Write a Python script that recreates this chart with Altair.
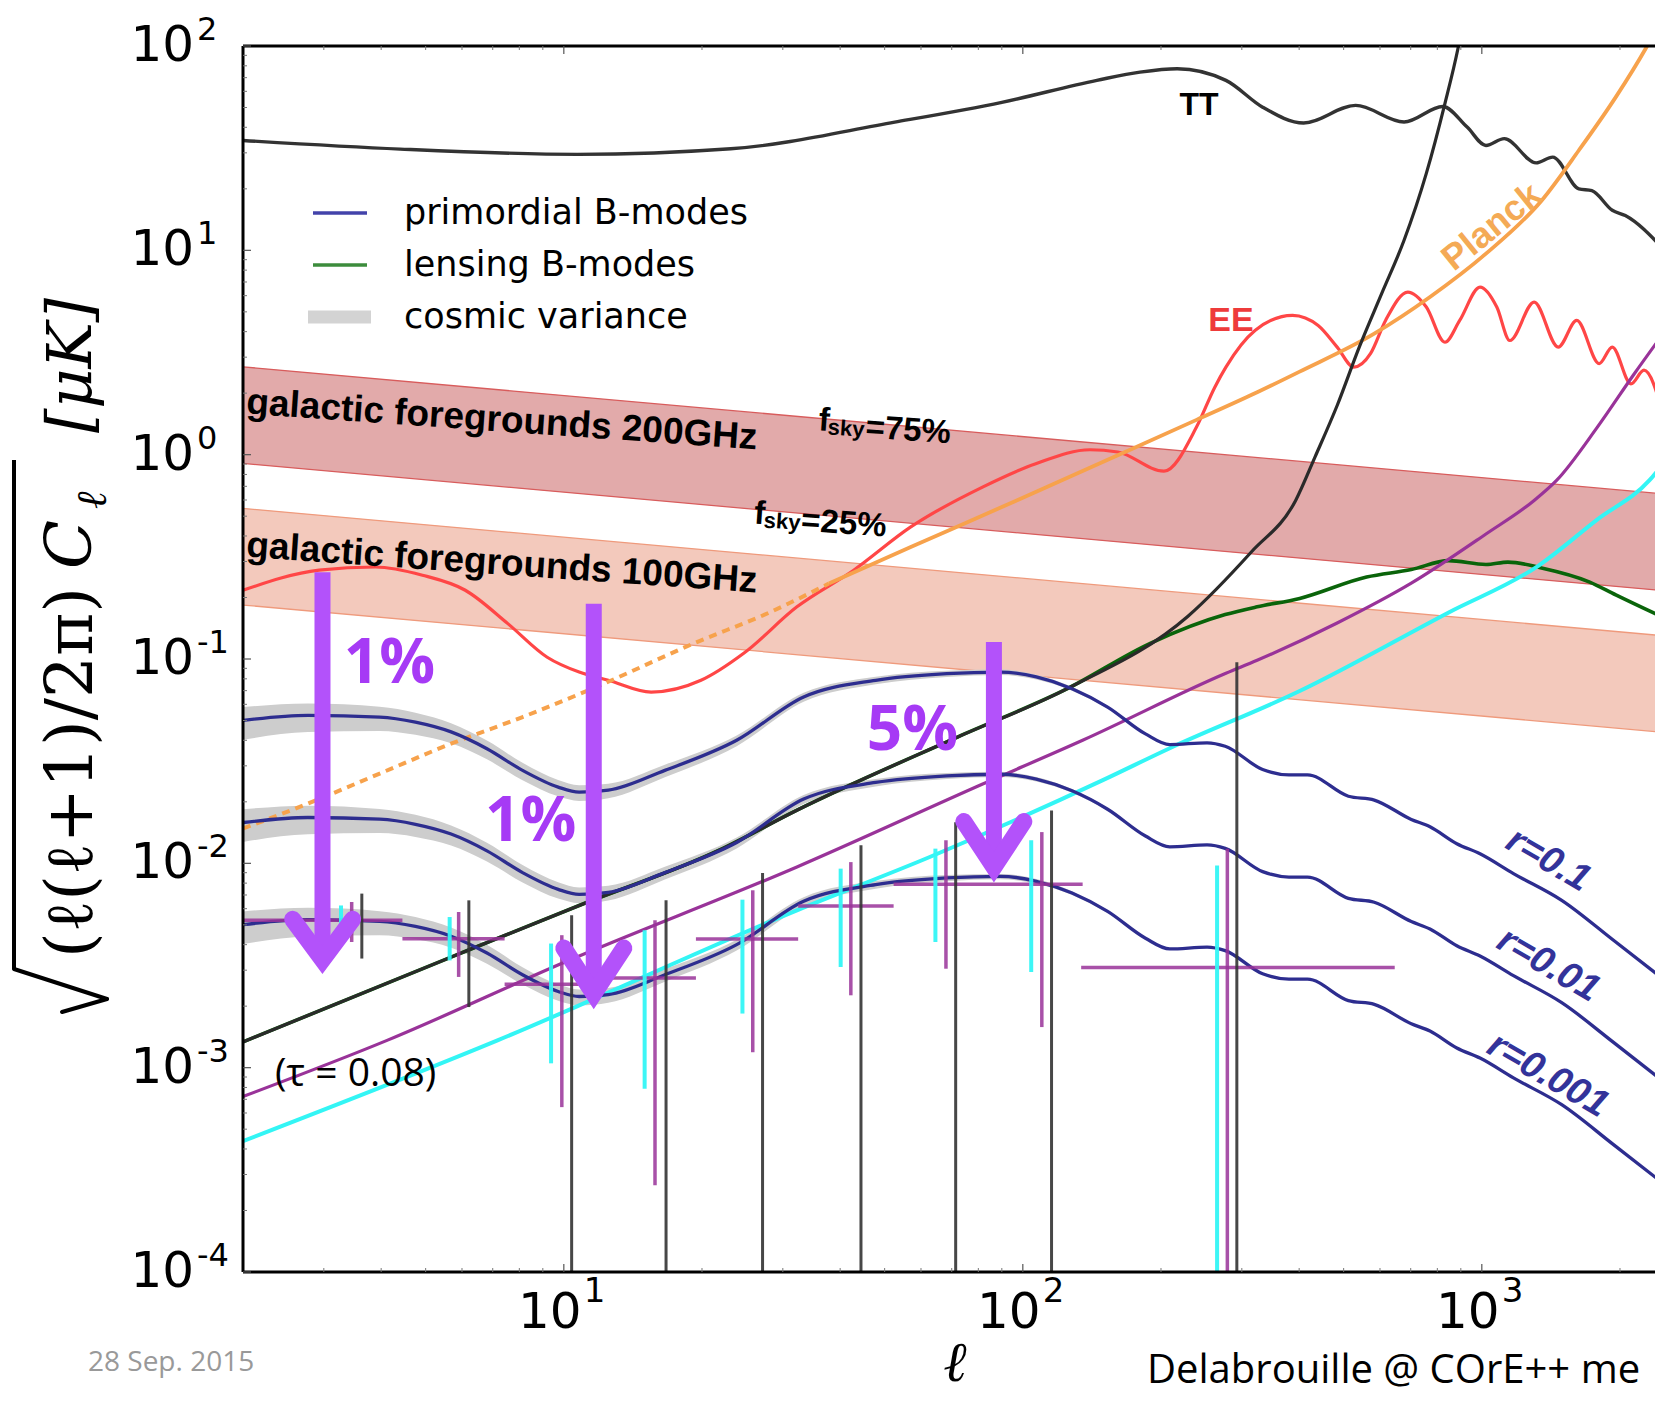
import altair as alt
import pandas as pd

# ---------------- values (ell, sqrt(l(l+1)Cl/2pi) [uK]) ----------------
TT_ELL = [2, 4.4, 10.7, 23.1, 52.6, 90, 145, 180, 217, 277, 333, 409, 531, 677, 822, 929, 1021, 1119, 1313, 1427, 1627, 1737, 1924, 2054, 2481]
TT_VAL = [34.5, 31.3, 29.5, 31.4, 42.4, 53, 67.9, 74.5, 77.4, 67.9, 50.2, 42.0, 51.2, 42.5, 50.6, 40.1, 32.6, 35.2, 26.8, 28.6, 20.0, 19.6, 15.7, 14.8, 10.2]

EE_ELL = [2, 2.93, 3.89, 4.92, 6.1, 7.55, 9.2, 10.8, 12.5, 15.5, 19.9, 24.7, 32.2, 42.8, 57, 81.7, 106.7, 140, 161, 203, 239, 262, 277, 321, 387, 440, 484, 526, 572, 617, 690, 757, 831, 895, 991, 1078, 1151, 1300, 1467, 1610, 1802, 1924, 2113, 2256, 2481]
EE_VAL = [0.217, 0.272, 0.282, 0.257, 0.217, 0.149, 0.102, 0.0863, 0.0787, 0.0689, 0.0787, 0.107, 0.180, 0.272, 0.443, 0.694, 0.903, 1.057, 1.03, 0.83, 1.365, 2.14, 2.68, 4.06, 4.81, 4.29, 3.36, 2.68, 3.12, 4.54, 6.25, 5.28, 3.55, 4.54, 6.61, 5.28, 3.62, 5.58, 3.36, 4.54, 2.79, 3.36, 2.22, 2.59, 1.6]

PLANCK_DOT_ELL = [2, 2.77, 3.97, 5.68, 8.13, 11.6, 19.5, 27.9, 37.8]
PLANCK_DOT_VAL = [0.0148, 0.0196, 0.0275, 0.0385, 0.052, 0.072, 0.121, 0.168, 0.234]
PLANCK_ELL = [37.8, 57, 97.5, 167, 239, 324, 401, 583, 771, 1021, 1349, 1626, 1958, 2274, 2420]
PLANCK_VAL = [0.234, 0.353, 0.60, 1.03, 1.48, 2.02, 2.55, 3.91, 5.91, 9.63, 17.5, 30.8, 56.2, 97, 125]

LENS_ELL = [2, 5.68, 10.8, 21.8, 32.2, 72.1, 125, 190.5, 276, 324, 401, 561, 702, 847, 1021, 1140, 1349, 1718, 1958, 2481]
LENS_VAL = [0.001337, 0.003475, 0.00622, 0.01159, 0.0182, 0.0415, 0.0716, 0.120, 0.165, 0.180, 0.198, 0.252, 0.274, 0.303, 0.290, 0.298, 0.279, 0.238, 0.206, 0.16]

NOISE_BK_ELL = [2, 5.68, 10.8, 21.8, 32.2, 72.1, 125, 229, 315, 393, 433, 484, 541, 605, 677, 757, 831, 887, 910]
NOISE_BK_VAL = [0.001337, 0.003475, 0.00622, 0.01159, 0.0182, 0.0415, 0.0716, 0.162, 0.335, 0.597, 0.973, 1.74, 3.37, 6.14, 11.2, 23.8, 52.3, 97, 130]

NOISE_PU_ELL = [2, 4.12, 10, 32.2, 82, 135, 277, 324, 484, 702, 1021, 1300, 1455, 1784, 2149, 2481]
NOISE_PU_VAL = [0.000722, 0.00136, 0.00327, 0.0096, 0.0245, 0.040, 0.0851, 0.0985, 0.150, 0.235, 0.409, 0.597, 0.748, 1.36, 2.49, 3.9]

NOISE_CY_ELL = [2, 7.17, 32.2, 62.7, 149, 209, 401, 847, 1325, 1784, 2317, 2481]
NOISE_CY_VAL = [0.000437, 0.00136, 0.00589, 0.01074, 0.02547, 0.0366, 0.0697, 0.169, 0.285, 0.481, 0.748, 0.9]

BB_ELL = [2, 2.77, 3.97, 4.75, 5.68, 6.8, 8.13, 9.72, 10.8, 12.5, 16.6, 23.8, 33.3, 47.8, 68.3, 89.3, 107, 128, 153, 185, 209, 252, 276, 333, 380, 417, 512, 583, 702, 771, 882, 991, 1172, 1493, 1936, 2481]
BB_R01 = [0.0501, 0.0530, 0.0520, 0.0491, 0.0440, 0.0364, 0.0285, 0.0236, 0.0223, 0.0228, 0.0285, 0.0400, 0.0652, 0.0787, 0.0848, 0.0863, 0.0817, 0.0716, 0.0582, 0.0430, 0.0381, 0.0389, 0.0374, 0.0288, 0.0271, 0.0271, 0.0213, 0.0204, 0.0164, 0.0151, 0.01248, 0.01114, 0.00891, 0.00659, 0.00420, 0.00272]
BB_R001 = [0.01584, 0.01676, 0.01644, 0.01553, 0.01391, 0.01151, 0.00901, 0.00746, 0.00705, 0.00721, 0.00901, 0.01265, 0.02062, 0.02489, 0.02681, 0.02729, 0.02583, 0.02264, 0.01840, 0.01360, 0.01205, 0.01230, 0.01183, 0.00911, 0.00857, 0.00857, 0.00674, 0.00645, 0.00519, 0.00477, 0.00395, 0.00352, 0.00282, 0.00208, 0.00133, 0.00086]
BB_R0001 = [0.00501, 0.00530, 0.00520, 0.00491, 0.00440, 0.00364, 0.00285, 0.00236, 0.00223, 0.00228, 0.00285, 0.00400, 0.00652, 0.00787, 0.00848, 0.00863, 0.00817, 0.00716, 0.00582, 0.00430, 0.00381, 0.00389, 0.00374, 0.00288, 0.00271, 0.00271, 0.00213, 0.00204, 0.00164, 0.00151, 0.001248, 0.001114, 0.000891, 0.000659, 0.000420, 0.000272]

# cosmic-variance band half widths (dex) for the first BB_ELL points
CV_UP_DEX = [0.065, 0.058, 0.050, 0.046, 0.042, 0.040, 0.037, 0.035, 0.034, 0.032, 0.028, 0.024, 0.020, 0.017, 0.014, 0.012, 0.011, 0.009, 0.007]
CV_LO_DEX = [0.095, 0.082, 0.068, 0.062, 0.056, 0.052, 0.048, 0.045, 0.043, 0.040, 0.034, 0.029, 0.024, 0.020, 0.016, 0.014, 0.012, 0.010, 0.008]

# galactic foreground bands (edges at ell=2 and ell=2481)
FG_ELL = [2, 2481]
FG200_HI = [2.69, 0.643]
FG200_LO = [0.906, 0.216]
FG100_HI = [0.546, 0.130]
FG100_LO = [0.1837, 0.0438]

# binned error bars
BIN_CY_ELL = [3.27, 5.64, 9.38, 15.0, 24.5, 40.1, 64.5, 104.3, 265]
BIN_CY_LO = [0.00412, 0.00335, 0.00105, 0.000789, 0.00184, 0.00311, 0.00412, 0.00294, 1e-4]
BIN_CY_HI = [0.00622, 0.00546, 0.00405, 0.00470, 0.00664, 0.00942, 0.0118, 0.01297, 0.00977]
BIN_PU_ELL = [3.45, 5.90, 9.90, 15.8, 25.8, 42.2, 68.0, 110, 279]
BIN_PU_LO = [0.00412, 0.00278, 0.000641, 0.000266, 0.00119, 0.00226, 0.00305, 0.00158, 1e-4]
BIN_PU_HI = [0.00647, 0.00578, 0.00445, 0.00526, 0.00738, 0.01014, 0.01297, 0.01422, 0.0118]
BIN_BK_ELL = [3.63, 6.21, 10.4, 16.7, 27.1, 44.4, 71.4, 115.5, 292.6]
BIN_BK_LO = [0.00342, 0.00198, 1e-4, 1e-4, 1e-4, 1e-4, 1e-4, 1e-4, 1e-4]
BIN_BK_HI = [0.00711, 0.00659, 0.00557, 0.00659, 0.00896, 0.01225, 0.0159, 0.01816, 0.0964]
BIN_EDGE_LO = [2, 4.45, 7.43, 11.8, 19.4, 32.4, 52.3, 134]
BIN_EDGE_HI = [4.45, 7.43, 11.8, 19.4, 32.4, 52.3, 135, 646]
BIN_VAL = [0.00526, 0.00428, 0.00256, 0.00275, 0.00426, 0.00618, 0.00789, 0.00309]

# arrows (ell of shaft, top, shaft end, arm ells, arm value, tip value)
ARROW_ELL = [2.98, 11.62, 86.5]
ARROW_TOP = [0.2655, 0.1866, 0.121]
ARROW_SHAFT_END = [0.00375, 0.002676, 0.01094]
ARROW_ARM_L = [2.566, 10.0, 74.4]
ARROW_ARM_R = [3.467, 13.51, 100.5]
ARROW_ARM_VAL = [0.00532, 0.00385, 0.0160]
ARROW_TIP_VAL = [0.003372, 0.002298, 0.009581]
ARROW_TEXT = ["1%", "1%", "5%"]
ARROW_TEXT_ELL = [4.17, 8.47, 57.5]
ARROW_TEXT_VAL = [0.0949, 0.0159, 0.0443]

Y_TICKS = [100, 10, 1, 0.1, 0.01, 0.001, 0.0001]
Y_EXP = ["2", "1", "0", "-1", "-2", "-3", "-4"]
X_TICKS = [10, 100, 1000]
X_EXP = ["1", "2", "3"]

# ---------------- helpers ----------------
W, H = 1412, 1226
XS = alt.Scale(type="log", domain=[2, 2384], nice=False)
YS = alt.Scale(type="log", domain=[1e-4, 100], nice=False)
ONE = pd.DataFrame({"k": [0]})


def xe(f="ell"):
    return alt.X(f + ":Q", scale=XS, axis=None)


def ye(f="val"):
    return alt.Y(f + ":Q", scale=YS, axis=None)


def curve(ells, vals, color, width, dash=None, opacity=1.0, interp="monotone", cap="butt"):
    props = dict(color=color, strokeWidth=width, clip=True, interpolate=interp, opacity=opacity, strokeCap=cap)
    if dash is not None:
        props["strokeDash"] = dash
    return alt.Chart(pd.DataFrame({"ell": ells, "val": vals})).mark_line(**props).encode(x=xe(), y=ye())


def band(ells, lo, hi, color, opacity=1.0, interp="linear"):
    df = pd.DataFrame({"ell": ells, "lo": lo, "hi": hi})
    return alt.Chart(df).mark_area(color=color, opacity=opacity, clip=True, interpolate=interp).encode(
        x=xe(), y=ye("lo"), y2="hi:Q")


def vbars(ells, lo, hi, color, width, opacity):
    df = pd.DataFrame({"ell": ells, "lo": lo, "hi": hi})
    return alt.Chart(df).mark_rule(color=color, strokeWidth=width, opacity=opacity, clip=True).encode(
        x=xe(), y=ye("lo"), y2="hi:Q")


def hbars(l0, l1, v, color, width, opacity):
    df = pd.DataFrame({"l0": l0, "l1": l1, "val": v})
    return alt.Chart(df).mark_rule(color=color, strokeWidth=width, opacity=opacity, clip=True).encode(
        x=xe("l0"), x2="l1:Q", y=ye())


def label(ell, val, text, size, color="black", font="Liberation Sans", weight="bold", style="normal",
          angle=0, align="center", baseline="middle"):
    df = pd.DataFrame({"ell": [ell], "val": [val], "t": [text]})
    return alt.Chart(df).mark_text(fontSize=size, color=color, font=font, fontWeight=weight, fontStyle=style,
                                   angle=angle, align=align, baseline=baseline).encode(x=xe(), y=ye(), text="t:N")


def prule(x1, y1, x2, y2, color, width, cap="butt"):
    return alt.Chart(ONE).mark_rule(color=color, strokeWidth=width, strokeCap=cap).encode(
        x=alt.value(x1), y=alt.value(y1), x2=alt.value(x2), y2=alt.value(y2))


def ptext(x, y, text, size, color="black", font="DejaVu Sans", weight="normal", style="normal",
          angle=0, align="left", baseline="middle"):
    return alt.Chart(ONE).mark_text(text=text, fontSize=size, color=color, font=font, fontWeight=weight,
                                    fontStyle=style, angle=angle, align=align, baseline=baseline).encode(
        x=alt.value(x), y=alt.value(y))


layers = []

# galactic foreground bands
layers.append(band(FG_ELL, FG200_LO, FG200_HI, "#e2aaaa"))
layers.append(curve(FG_ELL, FG200_HI, "#d85c5c", 1.3, interp="linear"))
layers.append(curve(FG_ELL, FG200_LO, "#d85c5c", 1.3, interp="linear"))
layers.append(band(FG_ELL, FG100_LO, FG100_HI, "#f3c9bc"))
layers.append(curve(FG_ELL, FG100_HI, "#ef9a7c", 1.3, interp="linear"))
layers.append(curve(FG_ELL, FG100_LO, "#ef9a7c", 1.3, interp="linear"))

# cosmic variance bands
n_cv = len(CV_UP_DEX)
for bb in (BB_R01, BB_R001, BB_R0001):
    lo = [bb[i] * 10 ** (-CV_LO_DEX[i]) for i in range(n_cv)]
    hi = [bb[i] * 10 ** (CV_UP_DEX[i]) for i in range(n_cv)]
    layers.append(band(BB_ELL[:n_cv], lo, hi, "#cdcdcd", interp="monotone"))

# spectra and noise curves
layers.append(curve(EE_ELL, EE_VAL, "#ff4646", 3.2))
layers.append(curve(TT_ELL, TT_VAL, "#333333", 3.4))
layers.append(curve(PLANCK_DOT_ELL, PLANCK_DOT_VAL, "#f7a24c", 4, dash=[8, 6]))
layers.append(curve(PLANCK_ELL, PLANCK_VAL, "#f7a24c", 3.8))
layers.append(curve(LENS_ELL, LENS_VAL, "#0a640a", 3.6))
layers.append(curve(NOISE_BK_ELL, NOISE_BK_VAL, "#2a2a2a", 3.2))
layers.append(curve(NOISE_PU_ELL, NOISE_PU_VAL, "#993399", 3.2))
layers.append(curve(NOISE_CY_ELL, NOISE_CY_VAL, "#33f5f5", 4))
for bb in (BB_R01, BB_R001, BB_R0001):
    layers.append(curve(BB_ELL, bb, "#2d2d8f", 3.3))

# error bars
layers.append(hbars(BIN_EDGE_LO, BIN_EDGE_HI, BIN_VAL, "#993399", 3.5, 0.85))
layers.append(vbars(BIN_CY_ELL, BIN_CY_LO, BIN_CY_HI, "#33f5f5", 4, 0.95))
layers.append(vbars(BIN_PU_ELL, BIN_PU_LO, BIN_PU_HI, "#993399", 3.5, 0.85))
layers.append(vbars(BIN_BK_ELL, BIN_BK_LO, BIN_BK_HI, "#333333", 3, 0.9))

# text annotations
layers.append(label(242, 51.2, "TT", 32))
layers.append(label(284, 4.49, "EE", 34, color="#ee3b3b"))
layers.append(label(1052, 13.0, "Planck", 36, color="#f4aa55", angle=321))
layers.append(label(7.33, 1.47, "galactic foregrounds 200GHz", 37, angle=4))
layers.append(label(7.33, 0.293, "galactic foregrounds 100GHz", 37, angle=4))
layers.append(label(35.8, 1.315, "f", 33, angle=4, align="left", baseline="alphabetic"))
layers.append(label(37.5, 1.257, "sky", 22, angle=4, align="left", baseline="alphabetic"))
layers.append(label(45.3, 1.215, "=75%", 33, angle=4, align="left", baseline="alphabetic"))
layers.append(label(25.9, 0.460, "f", 33, angle=4, align="left", baseline="alphabetic"))
layers.append(label(27.2, 0.440, "sky", 22, angle=4, align="left", baseline="alphabetic"))
layers.append(label(32.8, 0.425, "=25%", 33, angle=4, align="left", baseline="alphabetic"))
layers.append(label(1395, 0.01035, "r=0.1", 38, color="#33339a", style="italic", angle=30))
layers.append(label(1395, 0.00317, "r=0.01", 38, color="#33339a", style="italic", angle=30))
layers.append(label(1392, 0.000916, "r=0.001", 38, color="#33339a", style="italic", angle=30))
layers.append(label(3.52, 0.000927, "(τ = 0.08)", 39, font="Open Sans", weight="normal"))

# arrows
shaft = pd.DataFrame({"ell": ARROW_ELL, "top": ARROW_TOP, "end": ARROW_SHAFT_END})
layers.append(alt.Chart(shaft).mark_rule(color="#b352fa", strokeWidth=16, strokeCap="butt").encode(
    x=xe(), y=ye("top"), y2="end:Q"))
heads = []
for i in range(len(ARROW_ELL)):
    heads.append({"a": i, "ell": ARROW_ARM_L[i], "val": ARROW_ARM_VAL[i]})
    heads.append({"a": i, "ell": ARROW_ELL[i], "val": ARROW_TIP_VAL[i]})
    heads.append({"a": i, "ell": ARROW_ARM_R[i], "val": ARROW_ARM_VAL[i]})
layers.append(alt.Chart(pd.DataFrame(heads)).mark_line(color="#b352fa", strokeWidth=17, strokeCap="round",
                                                       strokeJoin="miter", strokeMiterLimit=10).encode(
    x=xe(), y=ye(), detail="a:N"))
pct = pd.DataFrame({"ell": ARROW_TEXT_ELL, "val": ARROW_TEXT_VAL, "t": ARROW_TEXT})
layers.append(alt.Chart(pct).mark_text(fontSize=62, font="Open Sans", fontWeight="bold", color="#a63af5",
                                       baseline="middle").encode(x=xe(), y=ye(), text="t:N"))

# frame (left, top, bottom spines)
layers.append(prule(0, 0, 0, H, "black", 3))
layers.append(prule(0, 0, W, 0, "black", 3))
layers.append(prule(0, H, W, H, "black", 3))

# small inward ticks
x_minor = [m * d for d in (1, 10, 100, 1000) for m in range(2, 10) if 2 < m * d < 2384]
y_minor = [m * d for d in (1e-4, 1e-3, 1e-2, 1e-1, 1, 10) for m in range(2, 10)]
xt = pd.DataFrame({"ell": x_minor})
yt = pd.DataFrame({"val": y_minor})
xM = pd.DataFrame({"ell": X_TICKS})
yM = pd.DataFrame({"val": Y_TICKS})
layers.append(alt.Chart(xt).mark_rule(color="#777", strokeWidth=1).encode(x=xe(), y=alt.value(H - 4), y2=alt.value(H)))
layers.append(alt.Chart(xt).mark_rule(color="#777", strokeWidth=1).encode(x=xe(), y=alt.value(0), y2=alt.value(4)))
layers.append(alt.Chart(yt).mark_rule(color="#777", strokeWidth=1).encode(y=ye(), x=alt.value(0), x2=alt.value(4)))
layers.append(alt.Chart(xM).mark_rule(color="#555", strokeWidth=1.2).encode(x=xe(), y=alt.value(H - 8), y2=alt.value(H)))
layers.append(alt.Chart(xM).mark_rule(color="#555", strokeWidth=1.2).encode(x=xe(), y=alt.value(0), y2=alt.value(8)))
layers.append(alt.Chart(yM).mark_rule(color="#555", strokeWidth=1.2).encode(y=ye(), x=alt.value(0), x2=alt.value(8)))

# tick labels  10^n
ylab = pd.DataFrame({"val": Y_TICKS, "e": Y_EXP})
layers.append(alt.Chart(ylab).mark_text(text="10", fontSize=50, font="DejaVu Sans", align="right",
                                        baseline="middle").encode(y=ye(), x=alt.value(-49)))
layers.append(alt.Chart(ylab).mark_text(fontSize=32, font="DejaVu Sans", align="left", baseline="middle",
                                        dy=-16).encode(y=ye(), x=alt.value(-46), text="e:N"))
xlab = pd.DataFrame({"ell": X_TICKS, "e": X_EXP})
layers.append(alt.Chart(xlab).mark_text(text="10", fontSize=50, font="DejaVu Sans", align="center",
                                        baseline="middle", dx=-14).encode(x=xe(), y=alt.value(H + 41)))
layers.append(alt.Chart(xlab).mark_text(fontSize=34, font="DejaVu Sans", align="left", baseline="middle",
                                        dx=20).encode(x=xe(), y=alt.value(H + 20), text="e:N"))

# axis titles
layers.append(ptext(712, H + 92, "ℓ", 56, font="DejaVu Serif", style="italic", align="center"))
layers.append(ptext(-171, 912, "(ℓ(ℓ+1)/2π)", 66, font="DejaVu Serif", angle=270))
layers.append(ptext(-171, 523, "C", 64, font="DejaVu Serif", style="italic", angle=270))
layers.append(ptext(-150, 463, "ℓ", 42, font="DejaVu Serif", style="italic", angle=270))
layers.append(ptext(-171, 387, "[μK]", 62, font="DejaVu Serif", style="italic", angle=270))
layers.append(prule(-229, 414, -229, 923, "black", 4))
layers.append(prule(-229, 923, -136, 953, "black", 4, cap="round"))
layers.append(prule(-136, 953, -181, 966, "black", 4, cap="round"))

# legend
layers.append(prule(70, 167, 124, 167, "#4343aa", 3.5))
layers.append(prule(70, 219, 124, 219, "#3c8c3c", 3.5))
layers.append(prule(65, 271, 128, 271, "#d3d3d3", 13))
layers.append(ptext(161, 167, "primordial B-modes", 35))
layers.append(ptext(161, 219, "lensing B-modes", 35))
layers.append(ptext(161, 271, "cosmic variance", 35))

# slide footer texts
layers.append(ptext(-155, 1317, "28 Sep. 2015", 28, color="#999999", font="Open Sans"))
layers.append(ptext(904, 1337, "Delabrouille @ COrE++ me", 40, font="Open Sans", baseline="alphabetic"))

chart = alt.layer(*layers).properties(
    width=W, height=H,
    autosize=alt.AutoSizeParams(type="none"),
    padding={"left": 235, "top": 38, "right": 0, "bottom": 126},
    background="white",
).configure_view(stroke=None)

chart.save("out.html", embed_options={"renderer": "svg", "actions": False})
